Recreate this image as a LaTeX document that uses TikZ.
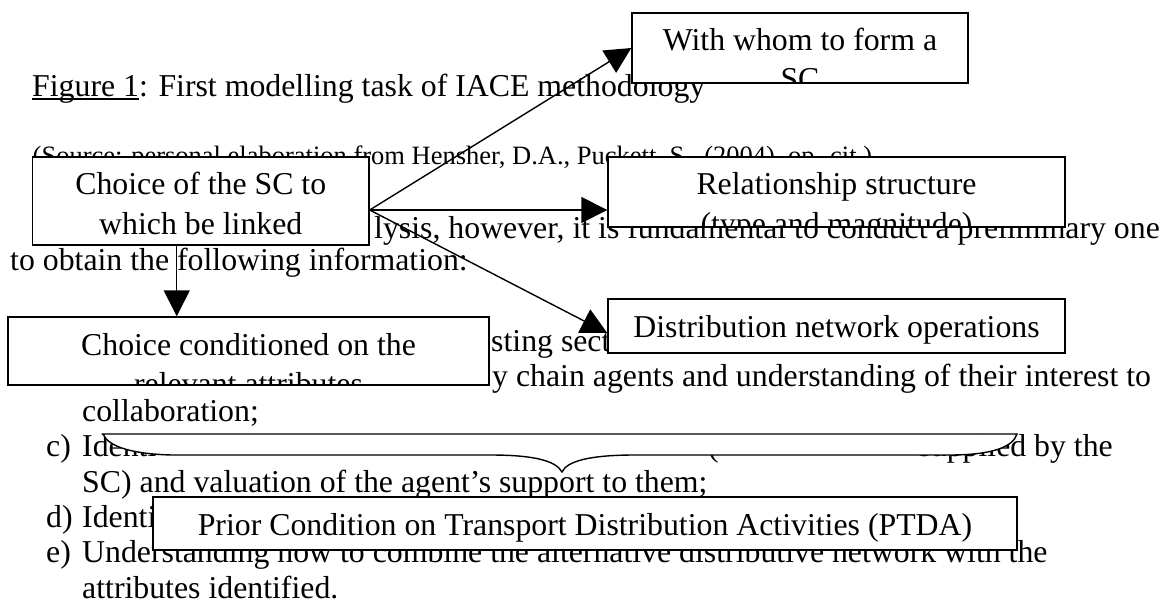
\documentclass[tikz,border=0pt]{standalone}
\usepackage{fontspec}
\setmainfont{Liberation Serif}
\usetikzlibrary{arrows.meta}

\newcommand{\uln}[1]{\setbox0\hbox{#1}\rlap{\rule[-3pt]{\wd0}{1.5pt}}#1}
\newcommand{\twolines}[3]{%
  \node[inner sep=0pt, anchor=base] (#1-1) at ([yshift=-38pt]path picture bounding box.north) {#2};
  \node[inner sep=0pt, anchor=base] (#1-2) at ([yshift=-77pt]path picture bounding box.north) {#3};}

\tikzset{
  txt/.style={inner sep=0pt, anchor=base west},
  box/.style={draw, fill=white, line width=1.4pt, inner sep=0pt},
  arr/.style={line width=1.4pt, -{Triangle[length=26pt,width=26pt]}},
}

\begin{document}
\begin{tikzpicture}[x=1pt, y=-1pt, font=\fontsize{31.8}{36.5}\selectfont]
\useasboundingbox (0,0) rectangle (1167,604);
% page text behind the figure
\node[txt] (title) at (32,97) {\uln{Figure 1}: First modelling task of IACE methodology};
\node[txt, font=\fontsize{26.5}{30}\selectfont] (source) at (32.5,165) {(Source: personal elaboration from Hensher, D.A., Puckett, S., (2004), op. cit.)};
\node[txt, anchor=base east] (analysis) at (1160,239) {lysis, however, it is fundamental to conduct a preliminary one};
\node[txt] (obtain) at (10,270) {to obtain the following information:};
\node[txt] (itema) at (491,351) {sting sect};
\node[txt] (itemb) at (492,386.3) {y chain agents and understanding of their interest to};
\node[txt] (collab) at (82,421.6) {collaboration;};
\node[txt] (labc) at (46,456.9) {c)};
\node[txt] (itemc) at (82,456.9) {Identi};
\node[txt] (paren) at (708,456.9) {(};
\node[txt, anchor=base east] (supplied) at (1113,456.9) {supplied by the};
\node[txt] (valuation) at (82,492.2) {SC) and valuation of the agent’s support to them;};
\node[txt] (labd) at (46,527.5) {d)};
\node[txt] (itemd) at (82,527.5) {Identi};
\node[txt] (labe) at (46,562.8) {e)};
\node[txt] (iteme) at (82,562.8) {Understanding how to combine the alternative distributive network with the};
\node[txt] (attr) at (82,598.1) {attributes identified.};

% boxes
\node[box, minimum width=336pt, minimum height=70pt, path picture={\twolines{whomtxt}{With whom to form a}{SC}}] (whom) at (800,48) {};
\node[box, minimum width=336.5pt, minimum height=88pt, path picture={\twolines{choicetxt}{Choice of the SC to}{which be linked}}] (choice) at (200.75,201) {};
\node[box, minimum width=457pt, minimum height=70pt, path picture={\twolines{relationtxt}{Relationship structure}{(type and magnitude)}}] (relation) at (836.5,192) {};
\node[box, minimum width=457pt, minimum height=54pt, path picture={\twolines{networktxt}{Distribution network operations}{}}] (network) at (836.5,326) {};
\node[box, minimum width=481pt, minimum height=68pt, path picture={\twolines{attribtxt}{Choice conditioned on the}{relevant attributes}}] (attrib) at (248.5,351) {};
\node[box, minimum width=864pt, minimum height=53pt, path picture={\twolines{ptdatxt}{Prior Condition on Transport Distribution Activities (PTDA)}{}}] (ptda) at (585,523.5) {};

% arrows
\coordinate (fork) at ([yshift=-9pt]choice.east);
\draw[arr] (fork) -- (whom.west);
\draw[arr] (fork) -- (fork -| relation.west);
\draw[arr] (fork) -- ([yshift=-7pt]network.west);
\draw[arr] ([xshift=-24pt]choice.south) -- ([xshift=-24pt]choice.south |- attrib.north);

% brace
\draw[fill=white, line width=1.4pt] (103,434) -- (1017,434) .. controls (1013,447) and (992,455) .. (950,455) -- (635,455) .. controls (590,455) and (567,461) .. (562,472) .. controls (556,461) and (535,455) .. (490,455) -- (172,455) .. controls (130,454) and (108,446) .. (103,434) -- cycle;
\end{tikzpicture}
\end{document}
